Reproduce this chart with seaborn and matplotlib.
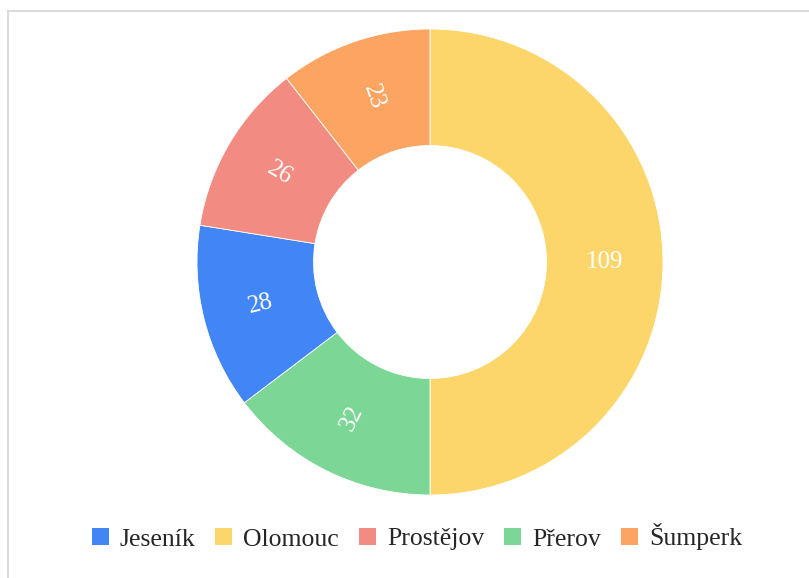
import seaborn as sns
import numpy as np
import matplotlib.pyplot as plt
from matplotlib.patches import Rectangle, Patch

sns.set_theme(style="white")
plt.rcParams['font.family'] = ['Liberation Serif', 'DejaVu Serif']

# slice order as drawn (clockwise from 12 o'clock)
regions = ["Olomouc", "Přerov", "Jeseník", "Prostějov", "Šumperk"]
counts = [109, 32, 28, 26, 23]
colors = ["#FCD66B", "#7CD695", "#4285F4", "#F28B82", "#FCA563"]

# legend order (alphabetical)
legend_order = ["Jeseník", "Olomouc", "Prostějov", "Přerov", "Šumperk"]

W, H = 809, 578
fig = plt.figure(figsize=(W / 100, H / 100), dpi=100)

# light frame around the chart area
fig.patches.append(Rectangle((8 / W, -0.1), 1.1, (H - 11) / H + 0.1,
                             transform=fig.transFigure, fill=False,
                             edgecolor="#dcdcdc", linewidth=1.5))

cx, cy, r = 430, 262, 233
ax = fig.add_axes([(cx - r) / W, (H - cy - r) / H, 2 * r / W, 2 * r / H])

wedges, _ = ax.pie(counts, colors=colors, startangle=90, counterclock=False,
                   radius=1, wedgeprops=dict(width=0.5, edgecolor="white", linewidth=0.6))

total = sum(counts)
angle = 90.0
for v in counts:
    span = v / total * 360
    mid = angle - span / 2
    angle -= span
    rad = np.deg2rad(mid)
    x, y = 0.75 * np.cos(rad), 0.75 * np.sin(rad)
    a = mid % 360
    rot = a - 180 if 90 < a < 270 else (a if a <= 90 else a - 360)
    ax.text(x, y, str(v), ha="center", va="center", rotation=rot,
            rotation_mode="anchor", color="white", fontsize=18)

ax.set_xlim(-1, 1)
ax.set_ylim(-1, 1)
ax.set_aspect("equal")
ax.axis("off")

handles = [Patch(facecolor=colors[regions.index(n)], edgecolor="none") for n in legend_order]
fig.legend(handles, legend_order, loc="center", bbox_to_anchor=(417 / W, 1 - 537 / H),
           ncol=5, frameon=False, fontsize=18.5, handlelength=0.66, handleheight=0.66,
           handletextpad=0.43, columnspacing=0.78)

fig.savefig("out.png", dpi=100)
